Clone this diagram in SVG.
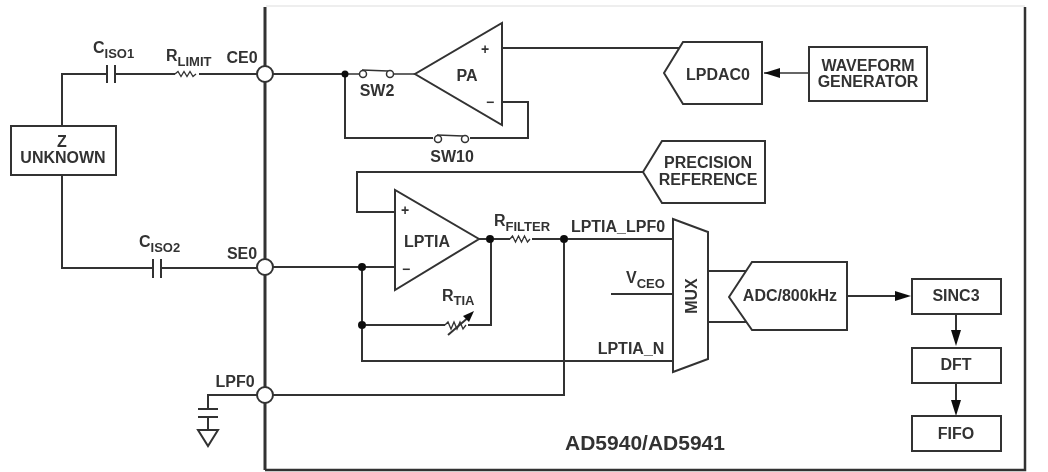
<svg xmlns="http://www.w3.org/2000/svg" width="1048" height="472" viewBox="0 0 1048 472">
<style>
text{font-family:"Liberation Sans",Arial,sans-serif;fill:#333;font-weight:bold;font-size:16px;text-anchor:middle}
.l{text-anchor:start}
.s{font-size:13px}
.m{font-size:14px}
.w{fill:none;stroke:#333;stroke-width:2}
.t{fill:none;stroke:#333;stroke-width:1.3}
.b{fill:#fff;stroke:#333;stroke-width:2}
.c{fill:#fff;stroke:#333;stroke-width:1.5}
.d{fill:#111}
.a{fill:#111}
.f{stroke:#333;stroke-width:3;fill:none}
</style>
<defs><filter id="soft" x="0" y="0" width="100%" height="100%"><feGaussianBlur stdDeviation="0.5"/></filter></defs>
<g filter="url(#soft)">
<rect width="1048" height="472" fill="#fff"/>
<g id="chip">
<path d="M266 6H1025" stroke="#eee" stroke-width="2" fill="none"/>
<path d="M1025 7V470H265" class="f" style="stroke-width:2.500"/>
<path d="M265 7V470" class="f"/>
<text x="645" y="450" style="font-size:21px">AD5940/AD5941</text>
</g>
<g id="connectors">
<path class="w" d="M62 126V74H107M115 74H175M199 74H257"/>
<path class="t" d="M175 74l3 -2.500l3 5l3 -5l3 5l3 -5l3 5l3 -2.500"/>
<path class="w" d="M107 65V83M115 65V83"/>
<path class="w" d="M62 175V268H153M161 268H257"/>
<path class="w" d="M153 259V278M161 259V278"/>
<path class="w" d="M257 395H208V409M208 417V430M198 409H218M198 417H218"/>
<path class="w" d="M198 430H218L208 446Z"/>
<path class="w" d="M273 395H564V239"/>
<path class="w" d="M273 74H345M345 74V138H433M470 138H528V102H502"/>
<path class="t" d="M345 74H359M394 74H415"/>
<path class="t" d="M362 70L388 71M437 135L463 136"/>
<path class="w" d="M502 48H680"/>
<path class="w" d="M643 172H357V212H395"/>
<path class="w" d="M273 267H395M362 267V361H673M362 325H445"/>
<path class="w" d="M468 325H491V239"/>
<path class="t" d="M445 325l3 -3l3 7l3 -7l3 7l3 -7l3 7l3 -4"/>
<path class="w" d="M448 335L470 316"/>
<path class="a" d="M474 311l-11 5l6 6z"/>
<path class="w" d="M479 239H510M532 239H673"/>
<path class="t" d="M510 239l2.500 -3l3 6l3 -6l3 6l3 -6l3 6l2.500 -3"/>
<path class="w" d="M611 294H673M708 271H746M708 322H746"/>
<circle class="d" cx="345" cy="74" r="3.500"/>
<circle class="d" cx="362" cy="267" r="4"/>
<circle class="d" cx="362" cy="325" r="4"/>
<circle class="d" cx="490" cy="239" r="4"/>
<circle class="d" cx="564" cy="239" r="4"/>
<path class="t" d="M764 73H810"/>
<path class="a" d="M764 73l16 -5v10z"/>
<path class="w" d="M847 296H905"/>
<path class="a" d="M911 296l-16 -5v10z"/>
<path class="w" d="M956 314V340M956 383V410"/>
<path class="a" d="M956 346l-5 -16h10zM956 416l-5 -16h10z"/>
</g>
<g id="ce0"><circle class="b" cx="265" cy="74" r="8"/><text x="242" y="63">CE0</text></g>
<g id="se0"><circle class="b" cx="265" cy="267" r="8"/><text x="242" y="259">SE0</text></g>
<g id="lpf0"><circle class="b" cx="265" cy="395" r="8"/><text x="235" y="387">LPF0</text></g>
<g id="ciso1"><text class="l" x="93" y="53">C<tspan class="s" dy="5">ISO1</tspan></text></g>
<g id="ciso2"><text class="l" x="139" y="247">C<tspan class="s" dy="5">ISO2</tspan></text></g>
<g id="rlimit"><text class="l" x="166" y="61">R<tspan class="s" dy="5">LIMIT</tspan></text></g>
<g id="rfilter"><text class="l" x="494" y="226">R<tspan class="s" dy="5">FILTER</tspan></text></g>
<g id="rtia"><text class="l" x="442" y="301">R<tspan class="s" dy="4">TIA</tspan></text></g>
<g id="vceo"><text class="l" x="626" y="283">V<tspan class="s" dy="5">CEO</tspan></text></g>
<g id="z-unknown"><rect class="b" x="11" y="126" width="105" height="49"/><text x="62" y="147">Z</text><text x="63" y="163">UNKNOWN</text></g>
<g id="sw2"><circle class="c" cx="363" cy="74" r="3.500"/><circle class="c" cx="390" cy="74" r="3.500"/><text x="377" y="96">SW2</text></g>
<g id="sw10"><circle class="c" cx="438" cy="139" r="3.500"/><circle class="c" cx="465" cy="139" r="3.500"/><text x="452" y="162">SW10</text></g>
<g id="pa"><path class="b" d="M502 23V125L415 74Z"/><text x="467" y="81">PA</text><text class="m" x="485" y="54">+</text><text class="m" x="490" y="107">−</text></g>
<g id="lpdac0"><path class="b" d="M664 73L683 42H762V104H683Z"/><text x="718" y="80">LPDAC0</text></g>
<g id="waveform-generator"><rect class="b" x="809" y="47" width="118" height="54"/><text x="868" y="71">WAVEFORM</text><text x="868" y="87">GENERATOR</text></g>
<g id="precision-reference"><path class="b" d="M643 172L662 141H765V203H662Z"/><text x="708" y="168">PRECISION</text><text x="708" y="185">REFERENCE</text></g>
<g id="lptia"><path class="b" d="M395 190V290L479 239Z"/><text x="427" y="247">LPTIA</text><text class="m" x="405" y="215">+</text><text class="m" x="406" y="274">−</text></g>
<g id="mux"><path class="b" d="M673 219L708 232V359L673 372Z"/><text transform="translate(697 296) rotate(-90)">MUX</text>
<text x="618" y="232">LPTIA_LPF0</text><text x="631" y="354">LPTIA_N</text></g>
<g id="adc"><path class="b" d="M729 297L752 262H847V330H752Z"/><text x="790" y="301">ADC/800kHz</text></g>
<g id="sinc3"><rect class="b" x="912" y="279" width="89" height="35"/><text x="956" y="301">SINC3</text></g>
<g id="dft"><rect class="b" x="912" y="348" width="89" height="35"/><text x="956" y="370">DFT</text></g>
<g id="fifo"><rect class="b" x="912" y="416" width="89" height="35"/><text x="956" y="439">FIFO</text></g>
</g>
</svg>
